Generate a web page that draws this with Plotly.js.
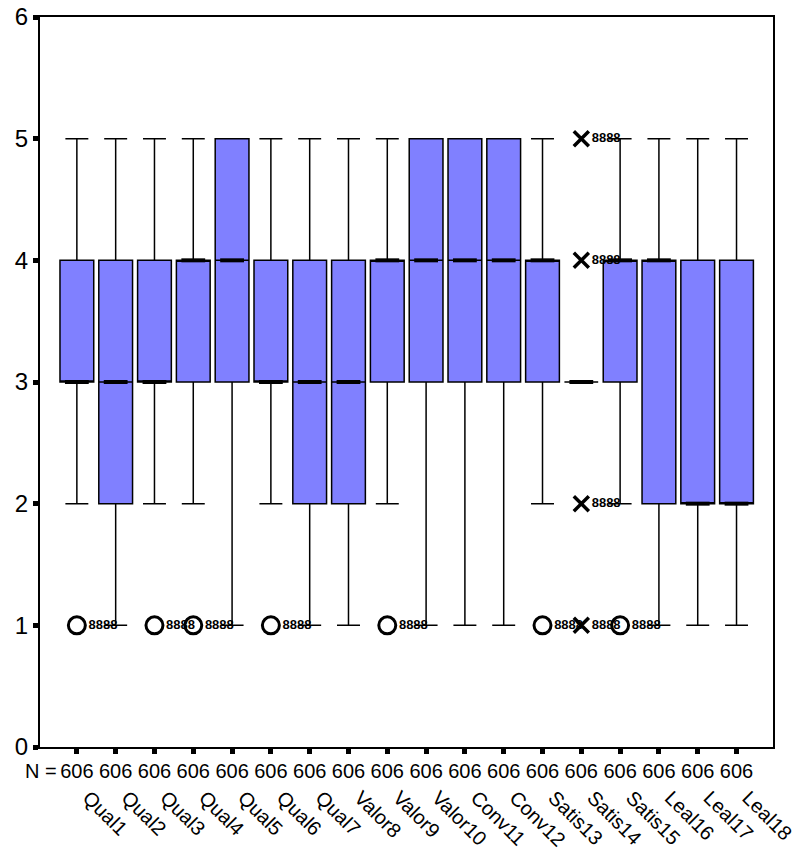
<!DOCTYPE html>
<html>
<head>
<meta charset="utf-8">
<script src="https://cdn.plot.ly/plotly-3.0.1.min.js"></script>
<style>
  html, body { margin: 0; padding: 0; background: #fff; }
  #chart { width: 801px; height: 858px; }
</style>
</head>
<body>
<div id="chart"></div>
<script>
// ---- data ----
const categories = ["Qual1","Qual2","Qual3","Qual4","Qual5","Qual6","Qual7","Valor8","Valor9","Valor10","Conv11","Conv12","Satis13","Satis14","Satis15","Leal16","Leal17","Leal18"];
const nValues   = [606,606,606,606,606,606,606,606,606,606,606,606,606,606,606,606,606,606];
const q1        = [3,2,3,3,3,3,2,2,3,3,3,3,3,3,3,2,2,2];
const medians   = [3,3,3,4,4,3,3,3,4,4,4,4,4,3,4,4,2,2];
const q3        = [4,4,4,4,5,4,4,4,4,5,5,5,4,3,4,4,4,4];
const lowerWhisker = [2,1,2,2,1,2,1,1,2,1,1,1,2,3,2,1,1,1];
const upperWhisker = [5,5,5,5,5,5,5,5,5,5,5,5,5,3,5,5,5,5];
// outliers (circles) and extremes (crosses), by category name
const outlierCats   = ["Qual1","Qual3","Qual4","Qual6","Valor9","Satis13","Satis15"];
const outlierValues = [1,1,1,1,1,1,1];
const outlierLabels = ["8888","8888","8888","8888","8888","8888","8888"];
const extremeCats   = ["Satis14","Satis14","Satis14","Satis14"];
const extremeValues = [5,4,2,1];
const extremeLabels = ["8888","8888","8888","8888"];
const yTicks = [0,1,2,3,4,5,6];

// ---- build ----
const idx = categories.map((_, i) => i);
const pos = name => categories.indexOf(name);
const xRange = [-0.95, 17.94];
const font = "Arial, 'Liberation Sans', sans-serif";

const boxTrace = {
  type: 'box',
  x: idx,
  q1: q1, median: medians, q3: q3,
  lowerfence: lowerWhisker, upperfence: upperWhisker,
  boxpoints: false,
  width: 0.87,
  whiskerwidth: 0.68,
  fillcolor: '#8080ff',
  line: { color: '#000', width: 1.5 },
  hoverinfo: 'skip',
  showlegend: false
};

const medianTrace = {
  type: 'scatter', mode: 'markers',
  x: idx, y: medians,
  marker: { symbol: 'line-ew-open', size: 17, color: '#000', line: { color: '#000', width: 4 } },
  hoverinfo: 'skip', showlegend: false
};

const outlierTrace = {
  type: 'scatter', mode: 'markers+text',
  x: outlierCats.map(pos), y: outlierValues,
  text: outlierLabels, textposition: 'middle right',
  textfont: { family: font, size: 13, color: '#000', weight: 'bold' },
  marker: { symbol: 'circle-open', size: 17, color: '#000', line: { color: '#000', width: 3 } },
  cliponaxis: false, hoverinfo: 'skip', showlegend: false
};

const extremeTrace = {
  type: 'scatter', mode: 'markers+text',
  x: extremeCats.map(pos), y: extremeValues,
  text: extremeLabels, textposition: 'middle right',
  textfont: { family: font, size: 13, color: '#000', weight: 'bold' },
  marker: { symbol: 'x-thin-open', size: 15, color: '#000', line: { color: '#000', width: 3.5 } },
  cliponaxis: false, hoverinfo: 'skip', showlegend: false
};

const labelAxisTrace = {
  type: 'scatter', mode: 'markers', xaxis: 'x2', yaxis: 'y',
  x: idx, y: idx.map(() => null), hoverinfo: 'skip', showlegend: false
};

const layout = {
  width: 801, height: 858,
  margin: { l: 40, r: 28, t: 17, b: 5 },
  paper_bgcolor: '#fff', plot_bgcolor: '#fff',
  font: { family: font, color: '#000' },
  showlegend: false,
  xaxis: {
    range: xRange, showgrid: false, zeroline: false,
    showline: true, linecolor: '#000', linewidth: 2, mirror: true,
    ticks: 'outside', ticklen: 5, tickwidth: 5, tickcolor: '#000',
    tickvals: idx, ticktext: nValues.map(String),
    tickfont: { size: 20, family: font }, tickangle: 0
  },
  xaxis2: {
    overlaying: 'x', anchor: 'free', position: 0.086, side: 'bottom',
    range: [xRange[0] - 0.3, xRange[1] - 0.3],
    showgrid: false, zeroline: false, showline: false, ticks: '',
    tickvals: idx, ticktext: categories, tickangle: 45,
    tickfont: { size: 20, family: font }
  },
  yaxis: {
    domain: [0.1268, 1], range: [0, 6], showgrid: false, zeroline: false,
    showline: true, linecolor: '#000', linewidth: 2, mirror: true,
    ticks: 'outside', ticklen: 5, tickwidth: 5, tickcolor: '#000',
    tickvals: yTicks, ticktext: yTicks.map(String),
    tickfont: { size: 24, family: font }
  },
  annotations: [{
    text: 'N =', xref: 'x', yref: 'paper', x: -0.45, y: 0.098,
    xanchor: 'right', yanchor: 'middle', showarrow: false,
    font: { size: 20, family: font, color: '#000' }
  }]
};

Plotly.newPlot('chart', [boxTrace, medianTrace, outlierTrace, extremeTrace, labelAxisTrace], layout, { displayModeBar: false, staticPlot: true });
</script>
</body>
</html>
